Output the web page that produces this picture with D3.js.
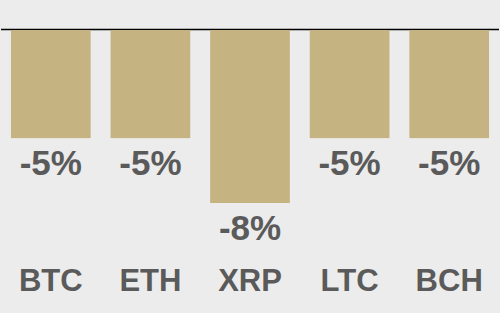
<!DOCTYPE html>
<html>
<head>
<meta charset="utf-8">
<script src="https://cdn.jsdelivr.net/npm/d3@7"></script>
<style>
  body { margin: 0; background: #ececec; }
  svg { display: block; }
  text { font-family: "Liberation Sans", Arial, sans-serif; font-weight: bold; fill: #5a5a5a; }
</style>
</head>
<body>
<svg></svg>
<script>
const coins = ["BTC", "ETH", "XRP", "LTC", "BCH"];
const changes = [-5, -5, -8, -5, -5];

function drawChart() {
    const svgWidth = 500, svgHeight = 313;
    const baseY = 30;

    const svg = d3.select("svg")
        .attr("width", svgWidth)
        .attr("height", svgHeight);

    svg.append("rect")
        .attr("width", svgWidth).attr("height", svgHeight)
        .attr("fill", "#ececec");

    const x = d3.scaleBand()
        .domain(coins)
        .range([1, 499])
        .paddingInner(0.2)
        .paddingOuter(0.1);

    const y = d3.scaleLinear()
        .domain([0, -8])
        .range([baseY, 203]);

    // zero line (bars sit just under it)
    svg.append("line")
        .attr("x1", 1).attr("x2", 499)
        .attr("y1", y(0) - 0.5).attr("y2", y(0) - 0.5)
        .attr("stroke", "#000")
        .attr("stroke-width", 1.3);

    const data = coins.map((c, i) => ({ coin: c, value: changes[i] }));

    svg.selectAll(".bar")
        .data(data)
        .enter().append("rect")
        .attr("class", "bar")
        .attr("x", d => x(d.coin))
        .attr("y", y(0))
        .attr("width", x.bandwidth())
        .attr("height", d => y(d.value) - y(0))
        .attr("fill", "#c5b482");

    // value labels
    svg.selectAll(".value")
        .data(data)
        .enter().append("text")
        .attr("class", "value")
        .attr("x", d => x(d.coin) + x.bandwidth() / 2)
        .attr("y", d => y(d.value) + 36.5)
        .attr("text-anchor", "middle")
        .attr("font-size", "35px")
        .text(d => d.value + "%");

    // category labels
    svg.selectAll(".cat")
        .data(coins)
        .enter().append("text")
        .attr("class", "cat")
        .attr("x", d => x(d) + x.bandwidth() / 2)
        .attr("y", 291)
        .attr("text-anchor", "middle")
        .attr("font-size", "31px")
        .text(d => d);
}

drawChart();
</script>
</body>
</html>
